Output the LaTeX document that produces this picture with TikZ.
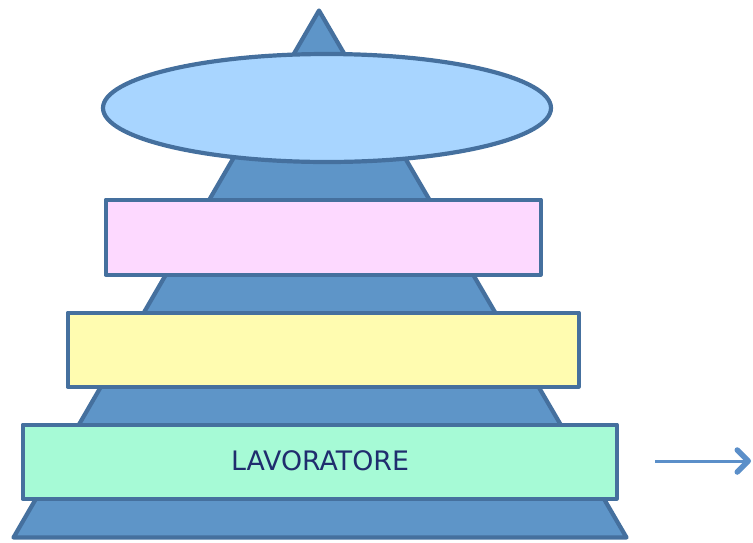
\documentclass[tikz,border=0pt]{standalone}
\usepackage{fontspec}
\setmainfont{DejaVu Sans}
\usetikzlibrary{arrows.meta,shapes.geometric}
\definecolor{pyrfill}{HTML}{5E95C8}
\definecolor{edge}{HTML}{45709E}
\definecolor{ovalfill}{HTML}{A8D5FF}
\definecolor{pinkfill}{HTML}{FDD9FF}
\definecolor{yellowfill}{HTML}{FFFCB0}
\definecolor{greenfill}{HTML}{A6FAD6}
\definecolor{labeltext}{HTML}{1F2D6E}
\definecolor{arrowblue}{HTML}{5B8FC9}
\tikzset{
  outline/.style={draw=edge, line width=4.2pt, line join=round},
  layer/.style={outline, rectangle, inner sep=0pt, anchor=north west},
  pointer/.style={draw=arrowblue, line width=3pt, -{Straight Barb[length=11pt, width=22pt, line width=5.5pt, round]}}
}
\begin{document}
\begin{tikzpicture}[x=1pt, y=-1pt]
  \useasboundingbox (0,0) rectangle (753,542);
  % the pyramid
  \draw[outline, fill=pyrfill]
    (319,10.5) -- (626.5,537.5) -- (13.5,537.5) -- cycle;
  % top oval
  \node[outline, fill=ovalfill, ellipse, minimum width=448pt, minimum height=108pt, inner sep=0pt]
    (top) at (327,108) {};
  % stacked levels
  \node[layer, fill=pinkfill, minimum width=435pt, minimum height=75pt] (level3) at (103.5,197.5) {};
  \node[layer, fill=yellowfill, minimum width=511pt, minimum height=74pt] (level2) at (65.5,310.5) {};
  \node[layer, fill=greenfill, minimum width=594pt, minimum height=74pt] (level1) at (20.5,422.5) {};
  \node[text=labeltext, font=\fontsize{26.8}{32}\selectfont] (lab) at (320,461) {LAVORATORE};
  % outgoing arrow
  \coordinate (arrA) at (655,461);
  \coordinate (arrB) at (751,461);
  \draw[pointer] (arrA) -- (arrB);
\end{tikzpicture}
\end{document}
